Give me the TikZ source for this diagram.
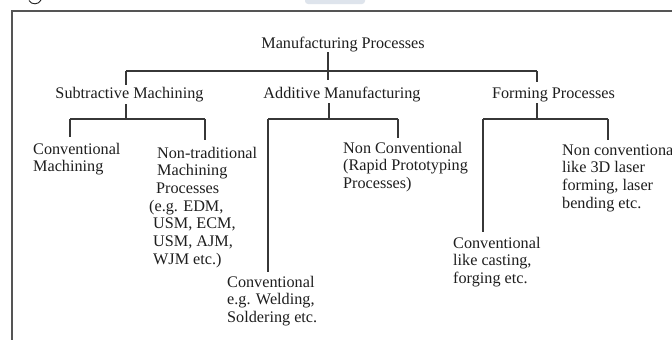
\documentclass[tikz,border=0pt]{standalone}
\usepackage{fontspec}
\setmainfont{Liberation Serif}
\definecolor{ink}{RGB}{30,30,30}
\definecolor{linec}{RGB}{55,55,55}
\definecolor{framec}{RGB}{85,85,85}
\definecolor{tabc}{RGB}{222,228,236}
\begin{document}
\begin{tikzpicture}[x=1pt,y=-1pt,
  lbl/.style={inner sep=0pt, anchor=base, text=ink, font=\fontsize{16.2}{17.7}\selectfont},
  multi/.style={inner sep=0pt, anchor=north west, align=left, text=ink, font=\fontsize{16.2}{17.7}\selectfont},
  conn/.style={draw=linec, line width=1.1pt},
  framel/.style={draw=framec, line width=1.3pt}]
\useasboundingbox (0,0) rectangle (672,340);
\clip (0,0) rectangle (672,340);
\fill[white] (0,0) rectangle (672,340);
% screenshot remnants
\fill[tabc, rounded corners=3pt] (305,-6) rectangle (365,4);
\draw[ink, line width=0.9pt] (29,0.5) .. controls (31,5) and (39,5) .. (41,0);
% frame
\draw[framel] (12,340) -- (12,11) -- (672,11);
% nodes
\node[lbl] (root) at (343,48) {Manufacturing Processes};
\node[lbl] (sub)  at (129.5,98) {Subtractive Machining};
\node[lbl] (add)  at (342,98) {Additive Manufacturing};
\node[lbl] (form) at (553.5,98) {Forming Processes};
\node[multi] (convM) at (33,141.6) {\strut Conventional\\Machining};
\node[multi] (nontrad) at (153,145.6) {\strut\hspace*{4pt}Non-traditional\\\hspace*{4pt}Machining\\\hspace*{3pt}Processes\\\hspace*{-4pt}(e.g. EDM,\\USM, ECM,\\USM, AJM,\\WJM etc.)};
\node[multi] (convW) at (227,274.6) {\strut Conventional\\e.g. Welding,\\Soldering etc.};
\node[multi] (nonconvR) at (343,140.6) {\strut Non Conventional\\(Rapid Prototyping\\Processes)};
\node[multi] (convC) at (453,235.6) {\strut Conventional\\like casting,\\forging etc.};
\node[multi] (nonconvF) at (562,142.6) {\strut Non conventiona\\like 3D laser\\forming, laser\\bending etc.};
% junction coordinates
\coordinate (r0) at (328,52);
\coordinate (r1) at (328,71);
\coordinate (rl) at (126,71);
\coordinate (rr) at (537,71);
\coordinate (s0) at (126,104);
\coordinate (s1) at (126,119);
\coordinate (sl) at (70,119);
\coordinate (sr) at (205,119);
\coordinate (a0) at (329,103);
\coordinate (a1) at (329,119);
\coordinate (al) at (268,119);
\coordinate (ar) at (398,119);
\coordinate (f0) at (537,103);
\coordinate (f1) at (537,119);
\coordinate (fl) at (483,119);
\coordinate (fr) at (608,119);
% top level
\draw[conn] (r0) -- (r1);
\draw[conn] (rl) -- (rr);
\draw[conn] (rl) -- (126,85);
\draw[conn] (r1) -- (328,80);
\draw[conn] (rr) -- (537,82);
% subtractive
\draw[conn] (s0) -- (s1);
\draw[conn] (sl) -- (sr);
\draw[conn] (sl) -- (70,137);
\draw[conn] (sr) -- (205,140);
% additive
\draw[conn] (a0) -- (a1);
\draw[conn] (al) -- (ar);
\draw[conn] (al) -- (268,272);
\draw[conn] (ar) -- (398,138);
% forming
\draw[conn] (f0) -- (f1);
\draw[conn] (fl) -- (fr);
\draw[conn] (fl) -- (483,232);
\draw[conn] (fr) -- (608,140);
\end{tikzpicture}
\end{document}
